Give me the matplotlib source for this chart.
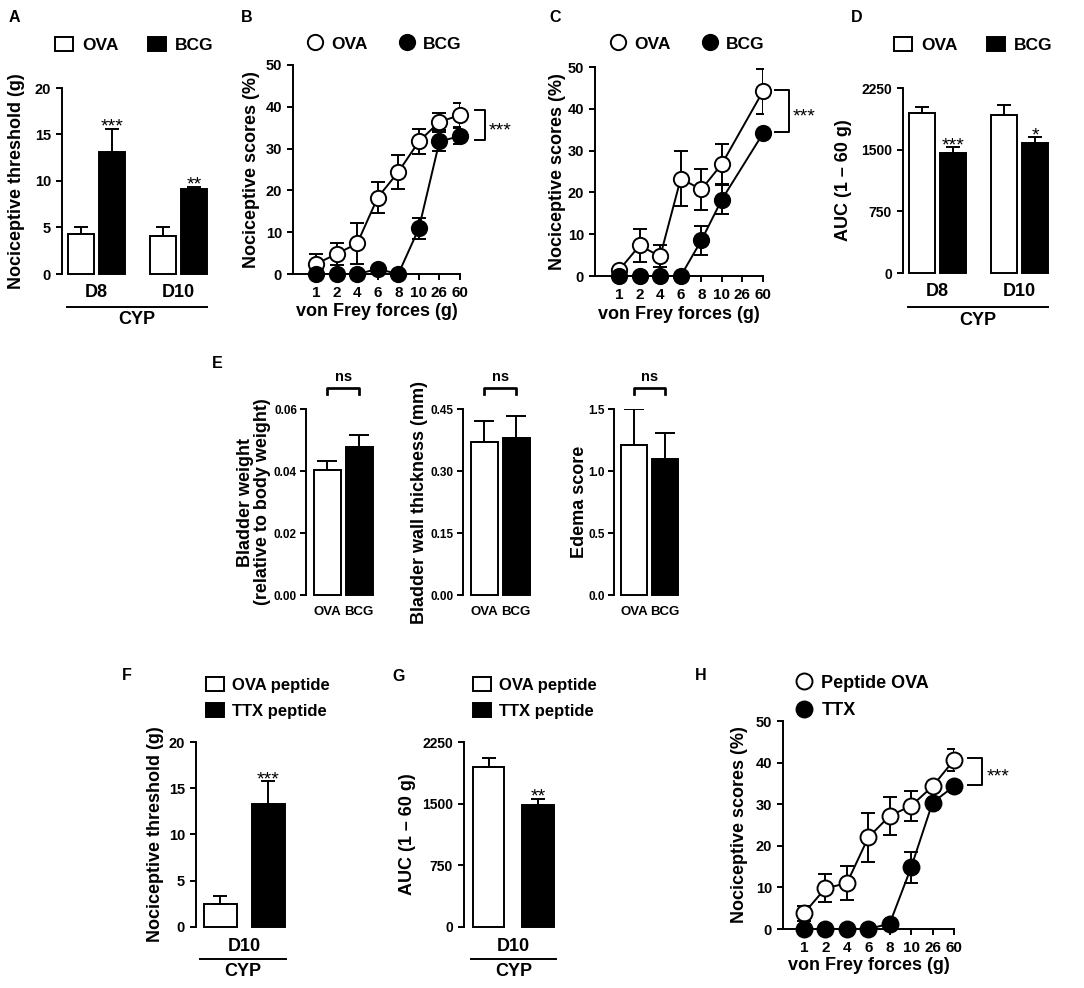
import numpy as np
import matplotlib
matplotlib.use('Agg')
from matplotlib import pyplot as plt
from matplotlib import transforms
from matplotlib.lines import Line2D
from matplotlib.patches import Patch

plt.rcParams['font.family'] = ['Liberation Sans', 'DejaVu Sans']
plt.rcParams['font.weight'] = 'bold'
plt.rcParams['axes.labelweight'] = 'bold'
plt.rcParams['axes.linewidth'] = 1.4

nan = np.nan

forces = ['1', '2', '4', '6', '8', '10', '26', '60']
days = ['D8', 'D10']
groups_e = ['OVA', 'BCG']
peptides = ['OVA peptide', 'TTX peptide']

# A - threshold
a_ova = [4.3, 4.1]
a_ova_err = [0.7, 0.9]
a_bcg = [13.1, 9.1]
a_bcg_err = [2.5, 0.3]
a_stars = ['***', '**']

# B - scores
b_ova = [2.4, 4.8, 7.3, 18.3, 24.4, 31.7, 36.4, 38.0]
b_ova_err = [2.4, 2.7, 4.8, 3.6, 4.0, 3.0, 2.0, 2.8]
b_bcg = [0, 0, 0, 1.2, 0, 10.9, 31.7, 33.0]
b_bcg_err = [0, 0, 0, 0, 0, 2.6, 2.2, 2.0]

# C - scores (no 26 g point)
c_ova = [1.4, 7.3, 4.7, 23.3, 20.7, 26.8, nan, 44.2]
c_ova_err = [0, 4.0, 2.6, 6.6, 5.0, 4.7, nan, 5.4]
c_bcg = [0, 0, 0, 0, 8.5, 18.3, nan, 34.1]
c_bcg_err = [0, 0, 0, 0, 3.4, 3.5, nan, 0]

# D - AUC
d_ova = [1947, 1918]
d_ova_err = [72, 122]
d_bcg = [1454, 1583]
d_bcg_err = [73, 65]
d_stars = ['***', '*']

# E
e_weight = [0.0404, 0.0476]
e_weight_err = [0.0027, 0.0041]
e_thick = [0.369, 0.380]
e_thick_err = [0.051, 0.052]
e_edema = [1.21, 1.10]
e_edema_err = [0.29, 0.21]

# F, G
f_vals = [2.52, 13.33]
f_err = [0.8, 2.42]
g_vals = [1942, 1480]
g_err = [113, 81]

# H
h_ova = [3.8, 9.8, 11.0, 22.0, 27.2, 29.6, 34.3, 40.6]
h_ova_err = [1.8, 3.4, 4.1, 6.0, 4.6, 3.6, 0, 2.7]
h_ttx = [0, 0, 0, 0, 1.3, 14.8, 30.4, 34.3]
h_ttx_err = [0, 0, 0, 0, 0, 3.7, 0, 0]

W, H = 1084, 988
LW = 1.4
fig = plt.figure(figsize=(W / 100, H / 100), dpi=100)


def new_ax(left, top, right, bottom):
    ax = fig.add_axes([left / W, 1 - bottom / H, (right - left) / W, (bottom - top) / H])
    ax.spines[['top', 'right']].set_visible(False)
    ax.tick_params(direction='out', length=4.5, width=LW, labelsize=10.5)
    ax.patch.set_alpha(0)
    return ax


def ax_px(ax):
    pos = ax.get_position()
    return pos.width * W, pos.height * H


def set_ylabel(ax, text, dx, **kw):
    w, h = ax_px(ax)
    ax.set_ylabel(text, fontsize=13, va='center', **kw)
    ax.yaxis.set_label_coords(dx / w, 0.5)


def set_xlabel(ax, text, dy):
    w, h = ax_px(ax)
    ax.set_xlabel(text, fontsize=13, va='center')
    ax.xaxis.set_label_coords(0.5, -dy / h)


def panel_letter(letter, x, y):
    fig.text(x / W, 1 - y / H, letter, fontsize=11.5, fontweight='bold', ha='center', va='center')


def legend_boxes(labels, x, y, ncol, fontsize, spacing=0.6):
    handles = [Patch(facecolor='white', edgecolor='black', lw=LW),
               Patch(facecolor='black', edgecolor='black', lw=LW)]
    fig.legend(handles, labels, loc='center left', bbox_to_anchor=(x / W, 1 - y / H),
               ncol=ncol, frameon=False, prop={'size': fontsize, 'weight': 'bold'},
               handlelength=1.05, handleheight=0.9, handletextpad=0.5, columnspacing=1.7,
               borderpad=0, borderaxespad=0, labelspacing=spacing)


def legend_circles(labels, x, y, ncol, fontsize, ms, spacing=0.6):
    handles = [Line2D([], [], ls='none', marker='o', ms=ms, mfc='white', mec='black', mew=LW),
               Line2D([], [], ls='none', marker='o', ms=ms, mfc='black', mec='black', mew=LW)]
    fig.legend(handles, labels, loc='center left', bbox_to_anchor=(x / W, 1 - y / H),
               ncol=ncol, frameon=False, prop={'size': fontsize, 'weight': 'bold'}, numpoints=1,
               handlelength=0.9, handletextpad=0.5, columnspacing=1.8,
               borderpad=0, borderaxespad=0, labelspacing=spacing)


def bar_pair(ax, light, light_err, dark, dark_err, offset, width, capsize=5):
    pos = np.arange(len(light))
    zeros = np.zeros(len(light))
    ekw = dict(elinewidth=LW, capthick=LW, ecolor='black')
    ax.bar(pos - offset, light, width, color='white', edgecolor='black', lw=LW,
           yerr=[zeros, light_err], capsize=capsize, error_kw=ekw, clip_on=False)
    ax.bar(pos + offset, dark, width, color='black', edgecolor='black', lw=LW,
           yerr=[zeros, dark_err], capsize=capsize, error_kw=ekw, clip_on=False)
    ax.spines['bottom'].set_visible(False)
    return pos


def stars_above(ax, xs, tops, texts):
    for x, t, s in zip(xs, tops, texts):
        ax.annotate(s, (x, t), xytext=(0, -2), textcoords='offset points', annotation_clip=False,
                    ha='center', va='baseline', fontsize=14, fontweight='normal')


def cyp_line(ax, x0, x1, dy_line, dy_text):
    w, h = ax_px(ax)
    tr = transforms.blended_transform_factory(ax.transData, ax.transAxes)
    ax.plot([x0, x1], [-dy_line / h] * 2, color='black', lw=LW, transform=tr, clip_on=False)
    ax.text((x0 + x1) / 2, -dy_text / h, 'CYP', transform=tr, ha='center', va='center', fontsize=13)


def score_panel(ax, left, light, light_err, dark, dark_err, ms):
    x = np.arange(len(forces))
    for vals, errs, face in [(light, light_err, 'white'), (dark, dark_err, 'black')]:
        vals = np.array(vals, float)
        errs = np.array(errs, float)
        ok = ~np.isnan(vals)
        has = ok & (np.nan_to_num(errs) > 0)
        ax.errorbar(x[has], vals[has], yerr=errs[has], fmt='none', ecolor='black',
                    elinewidth=LW, capsize=4.7, capthick=LW, zorder=2)
        ax.plot(x[ok], vals[ok], '-', color='black', lw=LW, zorder=3)
        ax.plot(x[ok], vals[ok], 'o', ms=ms, mfc=face, mec='black', mew=LW, zorder=4, clip_on=False)
    ax.set_xlim(left, len(forces) - 1)
    ax.set_ylim(0, 50)
    ax.set_yticks(range(0, 51, 10))
    ax.set_xticks(x, forces)
    ax.tick_params(axis='x', labelsize=11, pad=4)


def sig_bracket(ax, x0, x1, top, bottom, text):
    ax.plot([x0, x1, x1, x0], [top, top, bottom, bottom], color='black', lw=LW, clip_on=False)
    ax.annotate(text, (x1, (top + bottom) / 2), xytext=(3, -7.5), textcoords='offset points',
                annotation_clip=False, va='baseline', ha='left', fontsize=14, fontweight='normal')


# ---- A ----
axA = new_ax(62, 88, 62 + 1.868 * 82, 274)
pos = bar_pair(axA, a_ova, a_ova_err, a_bcg, a_bcg_err, 0.192, 0.317)
axA.set_xlim(-0.418, 1.45)
axA.set_ylim(0, 20)
axA.set_yticks(range(0, 21, 5))
axA.set_xticks(pos, days)
axA.tick_params(axis='x', length=0, pad=7, labelsize=13)
stars_above(axA, pos + 0.192, np.add(a_bcg, a_bcg_err), a_stars)
cyp_line(axA, pos[0] - 0.192 - 0.16, pos[-1] + 0.192 + 0.16, 33, 46)
set_ylabel(axA, 'Nociceptive threshold (g)', -45)
legend_boxes(['OVA', 'BCG'], 55, 45, 2, 12.5)
panel_letter('A', 14, 17)

# ---- B ----
axB = new_ax(293, 65, 460, 274)
score_panel(axB, -1.12, b_ova, b_ova_err, b_bcg, b_bcg_err, 11)
sig_bracket(axB, 7.72, 8.2, b_ova[-1] + 1.3, b_bcg[-1] - 0.9, '***')
set_ylabel(axB, 'Nociceptive scores (%)', -41)
set_xlabel(axB, 'von Frey forces (g)', 38)
legend_circles(['OVA', 'BCG'], 307, 44, 2, 12.5, 11)
panel_letter('B', 247, 17)

# ---- C ----
axC = new_ax(595, 67, 763, 276)
score_panel(axC, -1.17, c_ova, c_ova_err, c_bcg, c_bcg_err, 11)
sig_bracket(axC, 7.58, 8.26, c_ova[-1] + 0.2, c_bcg[-1] + 0.3, '***')
set_ylabel(axC, 'Nociceptive scores (%)', -38)
set_xlabel(axC, 'von Frey forces (g)', 38)
legend_circles(['OVA', 'BCG'], 610, 44, 2, 12.5, 11)
panel_letter('C', 555, 17)

# ---- D ----
axD = new_ax(903, 88, 903 + 1.868 * 82, 273)
pos = bar_pair(axD, d_ova, d_ova_err, d_bcg, d_bcg_err, 0.192, 0.317)
axD.set_xlim(-0.418, 1.45)
axD.set_ylim(0, 2250)
axD.set_yticks([0, 750, 1500, 2250])
axD.tick_params(axis='y', labelsize=10)
axD.set_xticks(pos, days)
axD.tick_params(axis='x', length=0, pad=7, labelsize=13)
stars_above(axD, pos + 0.192, np.add(d_bcg, d_bcg_err), d_stars)
cyp_line(axD, pos[0] - 0.192 - 0.16, pos[-1] + 0.192 + 0.16, 34, 47)
set_ylabel(axD, 'AUC (1 – 60 g)', -59)
legend_boxes(['OVA', 'BCG'], 894, 45, 2, 12.5)
panel_letter('D', 857, 17)

# ---- E ----
e_panels = [
    (306, 32, e_weight, e_weight_err, 0.06, [0, 0.02, 0.04, 0.06], '%.2f',
     'Bladder weight\n(relative to body weight)', -52),
    (463, 32, e_thick, e_thick_err, 0.45, [0, 0.15, 0.30, 0.45], '%.2f',
     'Bladder wall thickness (mm)', -43),
    (614, 30.5, e_edema, e_edema_err, 1.5, [0, 0.5, 1.0, 1.5], '%.1f',
     'Edema score', -35),
]
for left, unit, vals, errs, top, ticks, fmt, label, dx in e_panels:
    ax = new_ax(left, 409, left + (1.5 + 0.66) * unit, 595)
    pos = np.arange(2)
    ax.bar(pos, vals, 0.85, color=['white', 'black'], edgecolor='black', lw=LW,
           yerr=[[0, 0], errs], capsize=7, clip_on=False,
           error_kw=dict(elinewidth=LW, capthick=LW, ecolor='black'))
    ax.spines['bottom'].set_visible(False)
    ax.set_xlim(-0.66, 1.5)
    ax.set_ylim(0, top)
    ax.set_yticks(ticks, [fmt % t for t in ticks])
    ax.tick_params(axis='y', labelsize=8.5, pad=2)
    ax.set_xticks(pos, groups_e)
    ax.tick_params(axis='x', length=0, pad=8, labelsize=9.5)
    set_ylabel(ax, label, dx, linespacing=0.95)
    w, h = ax_px(ax)
    tr = transforms.blended_transform_factory(ax.transData, ax.transAxes)
    ax.plot([0, 0, 1, 1], [1 + 15 / h, 1 + 21 / h, 1 + 21 / h, 1 + 15 / h],
            color='black', lw=LW * 1.4, transform=tr, clip_on=False)
    ax.text(0.5, 1 + 32 / h, 'ns', transform=tr, ha='center', va='center', fontsize=10.5)
panel_letter('E', 217, 363)

# ---- F ----
axF = new_ax(196, 742, 196 + 1.96 * 48, 927)
pos = np.arange(2)
axF.bar(pos, f_vals, 0.69, color=['white', 'black'], edgecolor='black', lw=LW,
        yerr=[[0, 0], f_err], capsize=5, clip_on=False,
        error_kw=dict(elinewidth=LW, capthick=LW, ecolor='black'))
axF.spines['bottom'].set_visible(False)
axF.set_xlim(-0.51, 1.45)
axF.set_ylim(0, 20)
axF.set_yticks(range(0, 21, 5))
axF.set_xticks([0.5], ['D10'])
axF.tick_params(axis='x', length=0, pad=8, labelsize=13)
stars_above(axF, [1], [f_vals[1] + f_err[1]], ['***'])
cyp_line(axF, -0.43, 1.37, 32, 45)
set_ylabel(axF, 'Nociceptive threshold (g)', -41)
legend_boxes(peptides, 206, 698, 1, 12)
panel_letter('F', 127, 675)

# ---- G ----
axG = new_ax(464, 742, 464 + 1.945 * 49.5, 927)
axG.bar(pos, g_vals, 0.64, color=['white', 'black'], edgecolor='black', lw=LW,
        yerr=[[0, 0], g_err], capsize=5, clip_on=False,
        error_kw=dict(elinewidth=LW, capthick=LW, ecolor='black'))
axG.spines['bottom'].set_visible(False)
axG.set_xlim(-0.495, 1.45)
axG.set_ylim(0, 2250)
axG.set_yticks([0, 750, 1500, 2250])
axG.tick_params(axis='y', labelsize=10)
axG.set_xticks([0.5], ['D10'])
axG.tick_params(axis='x', length=0, pad=8, labelsize=13)
stars_above(axG, [1], [g_vals[1] + g_err[1]], ['**'])
cyp_line(axG, -0.35, 1.37, 32, 45)
set_ylabel(axG, 'AUC (1 – 60 g)', -56)
legend_boxes(peptides, 473, 698, 1, 12)
panel_letter('G', 399, 676)

# ---- H ----
axH = new_ax(783, 721, 954, 929)
score_panel(axH, -0.98, h_ova, h_ova_err, h_ttx, h_ttx_err, 11.5)
sig_bracket(axH, 7.65, 8.31, h_ova[-1] + 0.5, h_ttx[-1] + 0.3, '***')
set_ylabel(axH, 'Nociceptive scores (%)', -43)
set_xlabel(axH, 'von Frey forces (g)', 36)
legend_circles(['Peptide OVA', 'TTX'], 796, 697, 1, 13, 11.5)
panel_letter('H', 701, 675)

fig.savefig('out.png', dpi=100)
